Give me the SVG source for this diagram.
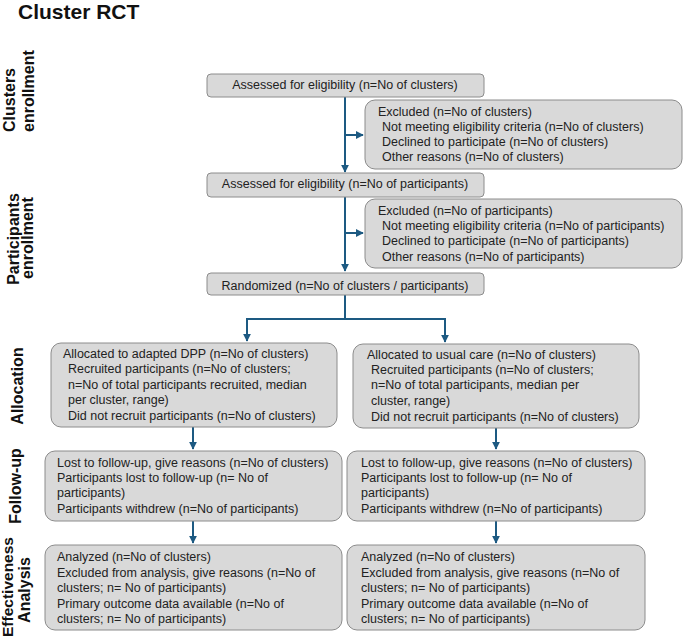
<svg xmlns="http://www.w3.org/2000/svg" width="685" height="637" viewBox="0 0 685 637">
<defs>
<style>
.box{fill:#d9d9d9;stroke:#8c8c8c;stroke-width:1}
.t{font-family:"Liberation Sans",Arial,sans-serif;font-size:12.5px;fill:#222}
.c{text-anchor:middle}
.side{font-family:"Liberation Sans",Arial,sans-serif;font-size:16px;font-weight:bold;fill:#111}
.title{font-family:"Liberation Sans",Arial,sans-serif;font-size:21px;font-weight:bold;fill:#111}
.ln{fill:none;stroke:#1d5a82;stroke-width:2}
</style>
<marker id="ah" viewBox="0 0 10 10" refX="9" refY="5" markerWidth="4" markerHeight="4" orient="auto" markerUnits="strokeWidth">
<path d="M0,0 L10,5 L0,10 z" fill="#1d5a82"/>
</marker>
</defs>
<rect width="685" height="637" fill="#fff"/>
<text class="title" x="18" y="19">Cluster RCT</text>

<g id="side-labels">
<text class="side" transform="translate(15,132) rotate(-90)">Clusters</text>
<text class="side" transform="translate(34,132) rotate(-90)">enrollment</text>
<text class="side c" transform="translate(19,239) rotate(-90)">Participants</text>
<text class="side c" transform="translate(33,238) rotate(-90)">enrollment</text>
<text class="side c" transform="translate(23,386) rotate(-90)">Allocation</text>
<text class="side c" transform="translate(21,486) rotate(-90)">Follow-up</text>
<text class="side c" style="font-size:15.5px" transform="translate(13,587) rotate(-90)">Effectiveness</text>
<text class="side c" transform="translate(30,590) rotate(-90)">Analysis</text>
</g>

<g id="connectors">
<line class="ln" x1="345" y1="97" x2="345" y2="172" marker-end="url(#ah)"/>
<line class="ln" x1="345" y1="135" x2="363" y2="135" marker-end="url(#ah)"/>
<line class="ln" x1="345" y1="197" x2="345" y2="271" marker-end="url(#ah)"/>
<line class="ln" x1="345" y1="233" x2="363" y2="233" marker-end="url(#ah)"/>
<polyline class="ln" points="345,295 345,319 247,319 247,341" marker-end="url(#ah)"/>
<polyline class="ln" points="345,319 445,319 445,342" marker-end="url(#ah)"/>
<line class="ln" x1="193" y1="427" x2="193" y2="449" marker-end="url(#ah)"/>
<line class="ln" x1="496" y1="428" x2="496" y2="449" marker-end="url(#ah)"/>
<line class="ln" x1="193" y1="521" x2="193" y2="543" marker-end="url(#ah)"/>
<line class="ln" x1="496" y1="521" x2="496" y2="543" marker-end="url(#ah)"/>
</g>

<g id="clusters-assessed">
<rect class="box" x="207" y="74" width="277" height="23" rx="4"/>
<text class="t c" x="345" y="89">Assessed for eligibility (n=No of clusters)</text>
</g>
<g id="clusters-excluded">
<rect class="box" x="365" y="100" width="317" height="69" rx="10"/>
<text class="t" x="378" y="116">Excluded (n=No of clusters)</text>
<text class="t" x="382" y="131">Not meeting eligibility criteria (n=No of clusters)</text>
<text class="t" x="382" y="146">Declined to participate (n=No of clusters)</text>
<text class="t" x="382" y="161">Other reasons (n=No of clusters)</text>
</g>
<g id="participants-assessed">
<rect class="box" x="207" y="173" width="277" height="24" rx="4"/>
<text class="t c" x="345" y="188">Assessed for eligibility (n=No of participants)</text>
</g>
<g id="participants-excluded">
<rect class="box" x="365" y="199" width="317" height="69" rx="10"/>
<text class="t" x="378" y="215">Excluded (n=No of participants)</text>
<text class="t" x="382" y="230">Not meeting eligibility criteria (n=No of participants)</text>
<text class="t" x="382" y="245">Declined to participate (n=No of participants)</text>
<text class="t" x="382" y="261">Other reasons (n=No of participants)</text>
</g>
<g id="randomized">
<rect class="box" x="207" y="273" width="277" height="22" rx="4"/>
<text class="t c" x="345" y="290">Randomized (n=No of clusters / participants)</text>
</g>
<g id="alloc-dpp">
<rect class="box" x="51" y="343" width="286" height="84" rx="10"/>
<text class="t" x="63" y="358">Allocated to adapted DPP (n=No of clusters)</text>
<text class="t" x="68" y="373">Recruited participants (n=No of clusters;</text>
<text class="t" x="68" y="389">n=No of total participants recruited, median</text>
<text class="t" x="68" y="404">per cluster, range)</text>
<text class="t" x="68" y="420">Did not recruit participants (n=No of clusters)</text>
</g>
<g id="alloc-usual">
<rect class="box" x="353" y="344" width="286" height="84" rx="10"/>
<text class="t" x="367" y="359">Allocated to usual care (n=No of clusters)</text>
<text class="t" x="371" y="374">Recruited participants (n=No of clusters;</text>
<text class="t" x="371" y="389">n=No of total participants, median per</text>
<text class="t" x="371" y="405">cluster, range)</text>
<text class="t" x="371" y="421">Did not recruit participants (n=No of clusters)</text>
</g>
<g id="followup-dpp">
<rect class="box" x="45" y="451" width="297" height="70" rx="10"/>
<text class="t" x="57" y="467">Lost to follow-up, give reasons (n=No of clusters)</text>
<text class="t" x="57" y="482">Participants lost to follow-up (n= No of</text>
<text class="t" x="57" y="497">participants)</text>
<text class="t" x="57" y="513">Participants withdrew (n=No of participants)</text>
</g>
<g id="followup-usual">
<rect class="box" x="347" y="451" width="298" height="70" rx="10"/>
<text class="t" x="361" y="467">Lost to follow-up, give reasons (n=No of clusters)</text>
<text class="t" x="361" y="482">Participants lost to follow-up (n= No of</text>
<text class="t" x="361" y="497">participants)</text>
<text class="t" x="361" y="513">Participants withdrew (n=No of participants)</text>
</g>
<g id="analysis-dpp">
<rect class="box" x="45" y="545" width="297" height="85" rx="10"/>
<text class="t" x="57" y="561">Analyzed (n=No of clusters)</text>
<text class="t" x="57" y="577">Excluded from analysis, give reasons (n=No of</text>
<text class="t" x="57" y="592">clusters; n= No of participants)</text>
<text class="t" x="57" y="608">Primary outcome data available (n=No of</text>
<text class="t" x="57" y="623">clusters; n= No of participants)</text>
</g>
<g id="analysis-usual">
<rect class="box" x="347" y="545" width="298" height="85" rx="10"/>
<text class="t" x="361" y="561">Analyzed (n=No of clusters)</text>
<text class="t" x="361" y="577">Excluded from analysis, give reasons (n=No of</text>
<text class="t" x="361" y="592">clusters; n= No of participants)</text>
<text class="t" x="361" y="608">Primary outcome data available (n=No of</text>
<text class="t" x="361" y="623">clusters; n= No of participants)</text>
</g>
</svg>
